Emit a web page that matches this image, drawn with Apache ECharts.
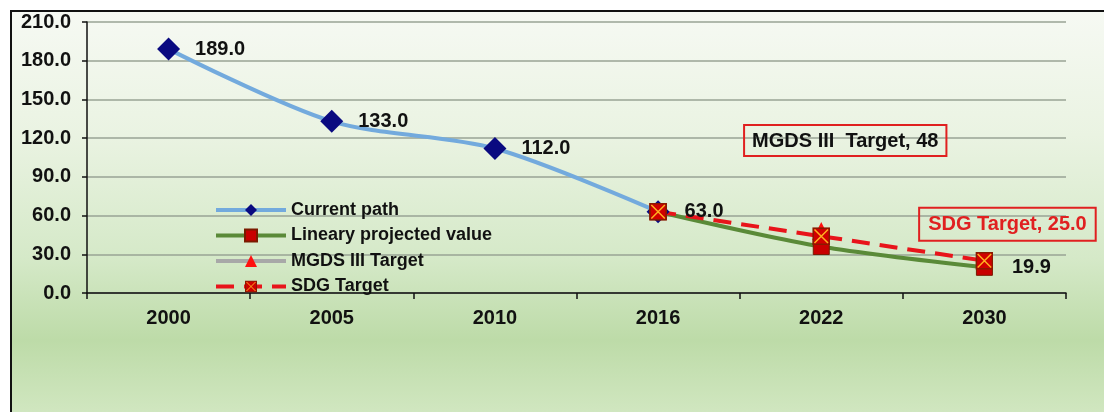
<!DOCTYPE html>
<html>
<head>
<meta charset="utf-8">
<script src="https://cdn.jsdelivr.net/npm/echarts@6/dist/echarts.min.js"></script>
<style>
  html, body { margin: 0; padding: 0; background: #fff; }
  .frame {
    position: absolute; left: 10px; top: 10px; width: 1100px; height: 410px;
    border-left: 2px solid #111; border-top: 2px solid #111;
    background: linear-gradient(to bottom, #f6f9f3 0%, #eaf3e2 30%, #d5e9c8 60%, #bddba8 80%, #d3e8c3 100%);
  }
  #chart { position: absolute; left: 0; top: 0; width: 1104px; height: 412px; }
</style>
</head>
<body>
<div class="frame"></div>
<div id="chart"></div>
<script>
const years = ['2000', '2005', '2010', '2016', '2022', '2030'];
const currentPath = [189, 133, 112, 63, null, null];
const linearProjected = [null, null, null, 63, 36, 19.9];
const mgdsTarget = [null, null, null, null, 48, null];
const sdgTarget = [null, null, null, 63, 44, 25];
const yTicks = { min: 0, max: 210, step: 30 };

const font = 'Liberation Sans, Arial, sans-serif';

// square with orange cross for the SDG markers
const sdgSvg = '<svg xmlns="http://www.w3.org/2000/svg" width="16" height="16" viewBox="0 0 16 16">' +
  '<rect x="0.75" y="0.75" width="14.5" height="14.5" fill="#d00000" stroke="#8a1a00" stroke-width="1.5"/>' +
  '<path d="M2 2L14 14M14 2L2 14" stroke="#ffb020" stroke-width="1.3"/></svg>';
const sdgSymbol = 'image://data:image/svg+xml;utf8,' + encodeURIComponent(sdgSvg);

const chart = echarts.init(document.getElementById('chart'));

const labelStyle = { fontFamily: font, fontWeight: 'bold', fontSize: 20, color: '#111' };

chart.setOption({
  animation: false,
  grid: { left: 87, right: 38, top: 22, bottom: 119 },
  legend: {
    orient: 'vertical',
    left: 209,
    top: 196,
    itemWidth: 70,
    itemHeight: 15,
    itemGap: 7.5,
    lineStyle: { width: 4 },
    textStyle: { fontFamily: font, fontWeight: 'bold', fontSize: 18, color: '#111' },
    data: ['Current path', 'Lineary projected value', 'MGDS III Target', 'SDG Target']
  },
  xAxis: {
    type: 'category',
    data: years,
    boundaryGap: true,
    axisLine: { lineStyle: { color: '#111', width: 1.5 } },
    axisTick: { show: true, length: 6, lineStyle: { color: '#111', width: 1.5 } },
    axisLabel: Object.assign({ margin: 15 }, labelStyle),
    splitLine: { show: false }
  },
  yAxis: {
    type: 'value',
    min: yTicks.min,
    max: yTicks.max,
    interval: yTicks.step,
    axisLine: { show: true, lineStyle: { color: '#111', width: 1.5 } },
    axisTick: { show: true, length: 5, lineStyle: { color: '#111', width: 1.5 } },
    axisLabel: Object.assign({ margin: 16, formatter: v => v.toFixed(1) }, labelStyle),
    splitLine: { lineStyle: { color: '#98a394', width: 1.5 } }
  },
  series: [
    {
      name: 'Current path',
      type: 'line',
      data: currentPath,
      smooth: 0.3,
      symbol: 'diamond',
      symbolSize: 23,
      lineStyle: { color: '#73aadd', width: 4 },
      itemStyle: { color: '#0a0a80' },
      label: Object.assign({ show: true, position: 'right', distance: 15, formatter: p => p.value.toFixed(1) }, labelStyle)
    },
    {
      name: 'Lineary projected value',
      type: 'line',
      data: linearProjected.map((v, i) => i === 5
        ? { value: v, label: Object.assign({ show: true, position: 'right', distance: 19, formatter: p => p.value.toFixed(1) }, labelStyle) }
        : v),
      smooth: 0.3,
      symbol: 'rect',
      symbolSize: 16,
      lineStyle: { color: '#5a8a38', width: 4 },
      itemStyle: { color: '#c80000', borderColor: '#7a1a00', borderWidth: 1 }
    },
    {
      name: 'MGDS III Target',
      type: 'line',
      data: mgdsTarget.map(v => v == null ? v : {
        value: v,
        label: Object.assign({
          show: true,
          position: 'top',
          offset: [24, -61],
          formatter: 'MGDS III  Target, 48',
          borderColor: '#e02020',
          borderWidth: 2,
          padding: [6, 8, 5, 8]
        }, labelStyle)
      }),
      symbol: 'triangle',
      symbolSize: 18,
      lineStyle: { color: '#a8a8a8', width: 4 },
      itemStyle: { color: '#ff1010' }
    },
    {
      name: 'SDG Target',
      type: 'line',
      data: sdgTarget.map((v, i) => i === 5 ? {
        value: v,
        label: Object.assign({}, labelStyle, {
          show: true,
          position: 'top',
          offset: [23, -6],
          formatter: 'SDG Target, 25.0',
          color: '#e02020',
          borderColor: '#e02020',
          borderWidth: 2,
          padding: [7, 9, 6, 9]
        })
      } : v),
      symbol: sdgSymbol,
      symbolSize: 18,
      lineStyle: { color: '#e8141a', width: 4, type: [18, 10] },
      itemStyle: { color: '#e8141a' }
    }
  ]
});
</script>
</body>
</html>
